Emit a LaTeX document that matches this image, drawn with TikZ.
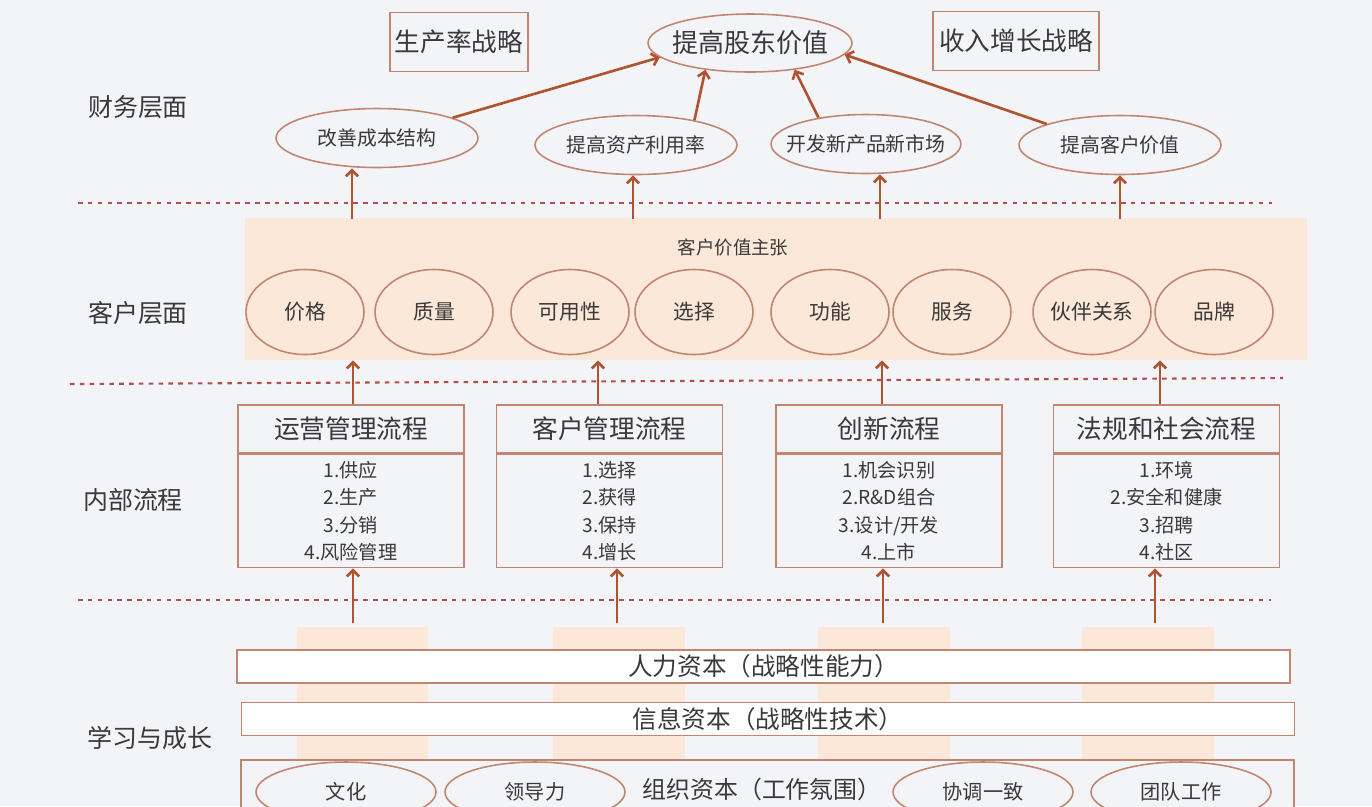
\documentclass[tikz,border=0pt]{standalone}
\usepackage{fontspec}
\setmainfont{Noto Sans CJK SC}
\usepackage{tikz}
\usepackage{xcolor}
\usetikzlibrary{shapes.geometric,arrows.meta,positioning}
\definecolor{bgcol}{HTML}{F3F4F8}
\definecolor{rust}{HTML}{B0532E}
\definecolor{dotred}{HTML}{B24E4C}
\definecolor{edgecol}{HTML}{C08670}
\definecolor{peach}{HTML}{FBE8D8}
\definecolor{txtcol}{HTML}{3A3838}

\begin{document}
\begin{tikzpicture}[x=0.02cm,y=-0.02cm,
  every node/.style={text=txtcol,inner sep=0pt},
  arr/.style={draw=rust,line width=1.5pt,-{Straight Barb[length=3.5pt,width=7pt]}},
  dotline/.style={draw=dotred,line width=1.2pt,dash pattern=on 2.6pt off 3pt},
  side/.style={font=\fontsize{14.2}{16}\selectfont},
  strat/.style={draw=edgecol,line width=0.9pt,minimum height=1.18cm,font=\fontsize{14.6}{17}\selectfont},
  goal/.style={ellipse,draw=edgecol,line width=0.9pt,inner xsep=-4pt,minimum width=4.08cm,minimum height=1.16cm,font=\fontsize{14.8}{17}\selectfont},
  fin/.style={ellipse,draw=edgecol,line width=0.9pt,minimum width=4.04cm,minimum height=1.18cm,font=\fontsize{11.3}{14}\selectfont},
  val/.style={ellipse,draw=edgecol,line width=0.9pt,minimum width=2.36cm,minimum height=1.7cm,font=\fontsize{11.8}{14}\selectfont},
  ptitle/.style={draw=edgecol,line width=0.9pt,minimum width=4.52cm,minimum height=0.96cm,font=\fontsize{14.6}{17}\selectfont},
  plist/.style={draw=edgecol,line width=0.9pt,minimum width=4.52cm,minimum height=2.26cm,align=center,font=\fontsize{10.9}{15.6}\selectfont},
  bar/.style={draw=edgecol,line width=0.9pt,fill=white,minimum width=21.06cm,minimum height=0.66cm,font=\fontsize{14}{16}\selectfont},
  org/.style={ellipse,draw=edgecol,line width=0.9pt,minimum width=3.6cm,minimum height=1.2cm,font=\fontsize{11.5}{14}\selectfont}]
\useasboundingbox (0,0) rectangle (1372,806);
\fill[bgcol] (0,0) rectangle (1372,806);
\node[side] (lfin) at (138,107) {财务层面};
\node[side] (lcus) at (138,313) {客户层面};
\node[side] (lint) at (133,500) {内部流程};
\node[side] (llrn) at (150,738) {学习与成长};
\node[strat,minimum width=2.76cm] (prod) at (459,42) {生产率战略};
\node[goal] (shv) at (750,43) {提高股东价值};
\node[strat,minimum width=3.32cm] (rev) at (1016,41) {收入增长战略};
\node[fin] (cost) at (377,138) {改善成本结构};
\node[fin] (asset) at (636,145) {提高资产利用率};
\node[fin,inner xsep=-7pt,minimum width=3.76cm] (newmkt) at (866,144) {开发新产品新市场};
\node[fin] (custv) at (1120,145) {提高客户价值};
\draw[arr] (cost.15) -- (shv.189);
\draw[arr] (asset.23) -- (shv.211);
\draw[arr] (newmkt.151) -- (shv.329);
\draw[arr] (custv.164) -- (shv.353);
\draw[dotline] (78,203) -- (1272,203);
\node[fill=peach,minimum width=21.26cm,minimum height=2.84cm] (cvp) at (776,289) {};
\node[font=\fontsize{10.5}{12}\selectfont] (cvpt) at (733,247) {客户价值主张};
\node[val] (price) at (305,312) {价格};
\node[val] (qual) at (434,312) {质量};
\node[val] (avail) at (570,312) {可用性};
\node[val] (choice) at (694,312) {选择};
\node[val] (func) at (830,312) {功能};
\node[val] (serv) at (952,312) {服务};
\node[val] (partner) at (1092,312) {伙伴关系};
\node[val] (brand) at (1214,312) {品牌};
\coordinate (f1) at (352,219);
\coordinate (f2) at (633,219);
\coordinate (f3) at (880,219);
\coordinate (f4) at (1120,219);
\draw[arr] (f1) -- (f1 |- cost.south);
\draw[arr] (f2) -- (f2 |- asset.south);
\draw[arr] (f3) -- (f3 |- newmkt.south);
\draw[arr] (f4) -- (f4 |- custv.south);
\draw[dotline] (70,384) -- (1283,378);
\node[ptitle] (opt) at (351,429) {运营管理流程};
\node[plist,below=0pt of opt] (opl) {1.供应\\2.生产\\3.分销\\4.风险管理};
\node[ptitle] (cmt) at (609.5,429) {客户管理流程};
\node[plist,below=0pt of cmt] (cml) {1.选择\\2.获得\\3.保持\\4.增长};
\node[ptitle] (int) at (889,429) {创新流程};
\node[plist,below=0pt of int] (inl) {1.机会识别\\2.R\&D组合\\3.设计/开发\\4.上市};
\node[ptitle] (rst) at (1166.5,429) {法规和社会流程};
\node[plist,below=0pt of rst] (rsl) {1.环境\\2.安全和健康\\3.招聘\\4.社区};
\coordinate (p1) at (353,0);
\coordinate (p2) at (598,0);
\coordinate (p3) at (882,0);
\coordinate (p4) at (1160,0);
\draw[arr] (p1 |- opt.north) -- (p1 |- cvp.south);
\draw[arr] (p2 |- cmt.north) -- (p2 |- cvp.south);
\draw[arr] (p3 |- int.north) -- (p3 |- cvp.south);
\draw[arr] (p4 |- rst.north) -- (p4 |- cvp.south);
\draw[dotline] (78,600) -- (1271,600);
\fill[peach] (297,627) rectangle (428,760);
\fill[peach] (553,627) rectangle (685,760);
\fill[peach] (818,627) rectangle (950,760);
\fill[peach] (1082,627) rectangle (1214,760);
\coordinate (b1) at (353,623);
\coordinate (b2) at (617,623);
\coordinate (b3) at (883,623);
\coordinate (b4) at (1155,623);
\draw[arr] (b1) -- (b1 |- opl.south);
\draw[arr] (b2) -- (b2 |- cml.south);
\draw[arr] (b3) -- (b3 |- inl.south);
\draw[arr] (b4) -- (b4 |- rsl.south);
\node[bar] (hum) at (763.5,666.5) {人力资本（战略性能力）};
\node[bar] (info) at (768,719) {信息资本（战略性技术）};
\node[draw=edgecol,line width=0.9pt,fill=bgcol,minimum width=21.06cm,minimum height=1.4cm] (orgbox) at (767.5,795) {};
\node[font=\fontsize{13.6}{16}\selectfont] (orgt) at (762,789) {组织资本（工作氛围）};
\node[org] (cult) at (346,792) {文化};
\node[org] (lead) at (535,792) {领导力};
\node[org] (align) at (983,792) {协调一致};
\node[org] (team) at (1181,792) {团队工作};
\end{tikzpicture}
\end{document}
